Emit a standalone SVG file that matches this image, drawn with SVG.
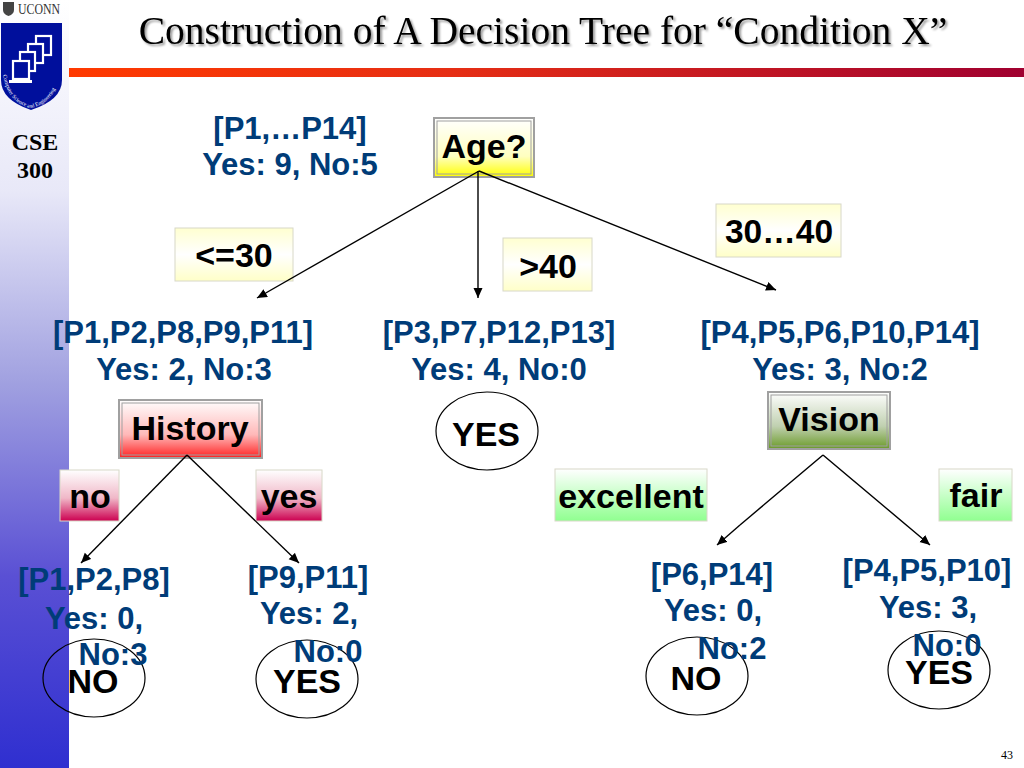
<svg xmlns="http://www.w3.org/2000/svg" width="1024" height="768" viewBox="0 0 1024 768">
<style>
text{font-family:"Liberation Sans",Arial,sans-serif;font-weight:bold}
.b{fill:#003c78;font-size:31px}
.k{fill:#000;font-size:34px}
.c{text-anchor:middle}
.s{font-family:"Liberation Serif","Times New Roman",serif;fill:#000}
.l{stroke:#000;stroke-width:1.4;fill:none;marker-end:url(#a)}
.n{stroke:#000;stroke-width:1.4;fill:none}
.e{fill:none;stroke:#000;stroke-width:1.2}
.o{stroke:#a0a0a0;stroke-width:2}
.i{fill:none;stroke:#a0a0a0;stroke-width:1}
.t{stroke:#d8d8c8;stroke-width:1}
.m{fill:#000f9c;stroke:#fff;stroke-width:2.2}
.f{fill:#fff}
</style>
<defs>
<linearGradient id="side" x1="0" y1="0" x2="0" y2="1"><stop offset="0" stop-color="#fff"/><stop offset=".25" stop-color="#e8e8f8"/><stop offset=".5" stop-color="#a0a0e0"/><stop offset=".75" stop-color="#5a50d4"/><stop offset="1" stop-color="#2f2fd0"/></linearGradient>
<linearGradient id="bar" x1="0" y1="0" x2="1" y2="0"><stop offset="0" stop-color="#ff3a00"/><stop offset=".4" stop-color="#e62e14"/><stop offset="1" stop-color="#a00030"/></linearGradient>
<linearGradient id="yl" x1="0" y1="0" x2="0" y2="1"><stop offset="0" stop-color="#fff"/><stop offset=".65" stop-color="#ffffc0"/><stop offset="1" stop-color="#ffff00"/></linearGradient>
<linearGradient id="rd" x1="0" y1="0" x2="0" y2="1"><stop offset="0" stop-color="#fff"/><stop offset=".6" stop-color="#ffb8b8"/><stop offset="1" stop-color="#ff2020"/></linearGradient>
<linearGradient id="gr" x1="0" y1="0" x2="0" y2="1"><stop offset="0" stop-color="#fff"/><stop offset=".6" stop-color="#c0d0b0"/><stop offset="1" stop-color="#6a9a28"/></linearGradient>
<linearGradient id="pk" x1="0" y1="0" x2="0" y2="1"><stop offset="0" stop-color="#fff"/><stop offset=".55" stop-color="#f0b8c8"/><stop offset="1" stop-color="#cc0050"/></linearGradient>
<linearGradient id="lg" x1="0" y1="0" x2="0" y2="1"><stop offset="0" stop-color="#fff"/><stop offset="1" stop-color="#90ff90"/></linearGradient>
<linearGradient id="ly" x1="0" y1="0" x2="0" y2="1"><stop offset="0" stop-color="#ffffd0"/><stop offset=".5" stop-color="#fff"/><stop offset="1" stop-color="#ffffc8"/></linearGradient>
<marker id="a" markerUnits="userSpaceOnUse" markerWidth="12" markerHeight="10" refX="10" refY="4.500" orient="auto"><path d="M0 0L10 4.500L0 9z" fill="#000"/></marker>
<path id="arc" d="M3 75Q8 103 31 108Q54 103 60 75"/>
</defs>

<g id="sidebar">
<rect x="0" y="0" width="69" height="768" fill="url(#side)"/>
<rect x="69" y="68" width="955" height="9" fill="url(#bar)"/>
<text x="18" y="14" class="s" textLength="42" lengthAdjust="spacingAndGlyphs" style="font-size:14px;font-weight:normal;fill:#333">UCONN</text>
<path d="M3 2H14V10Q14 14 8.500 16Q3 14 3 10Z" fill="#444"/>
<path d="M1 23H62V80Q62 100 31 110Q1 100 1 80Z" fill="#000f9c"/>
<rect class="m" x="36" y="36" width="15" height="19"/>
<rect class="m" x="28" y="44" width="15" height="19"/>
<rect class="m" x="20" y="52" width="15" height="19"/>
<rect class="m" x="13" y="61" width="16" height="18"/>
<rect class="f" x="9" y="80" width="23" height="3"/>
<text class="s" style="font-size:5.500px;font-weight:normal;fill:#fff"><textPath href="#arc">Computer Science and Engineering</textPath></text>
<text x="35" y="150" class="s c" style="font-size:24px">CSE</text>
<text x="35" y="178" class="s c" style="font-size:24px">300</text>
</g>

<text x="543" y="44" class="s c" style="font-size:39.500px;font-weight:normal;filter:drop-shadow(2px 2px 1px #999)" id="title">Construction of A Decision Tree for “Condition X”</text>

<g id="age"><rect x="434" y="118" width="100" height="59" fill="url(#yl)" class="o"/><rect x="437" y="121" width="94" height="53" class="i"/><text x="484" y="158" class="k c">Age?</text></g>
<g id="root-label"><text x="290" y="139" class="b c">[P1,…P14]</text><text x="290" y="175" class="b c">Yes: 9, No:5</text></g>

<g id="e1"><rect x="175" y="228" width="118" height="53" fill="url(#ly)" class="t"/><text x="234" y="267" class="k c">&lt;=30</text></g>
<g id="e2"><rect x="503" y="238" width="89" height="53" fill="url(#ly)" class="t"/><text x="548" y="278" class="k c">&gt;40</text></g>
<g id="e3"><rect x="716" y="204" width="125" height="53" fill="url(#ly)" class="t"/><text x="779" y="243" class="k c" style="font-size:33.500px">30…40</text></g>

<g id="p1"><text x="183" y="343" class="b c">[P1,P2,P8,P9,P11]</text><text x="184" y="380" class="b c">Yes: 2, No:3</text></g>
<g id="p2"><text x="499" y="343" class="b c">[P3,P7,P12,P13]</text><text x="499" y="380" class="b c">Yes: 4, No:0</text></g>
<g id="p3"><text x="840" y="343" class="b c">[P4,P5,P6,P10,P14]</text><text x="840" y="380" class="b c">Yes: 3, No:2</text></g>

<g id="history"><rect x="119" y="400" width="143" height="58" fill="url(#rd)" class="o"/><rect x="122" y="403" width="137" height="52" class="i"/><text x="190" y="440" class="k c">History</text></g>
<g id="yes-mid"><ellipse cx="487" cy="431" rx="51" ry="39" class="e"/><text x="486" y="446" class="k c">YES</text></g>
<g id="vision"><rect x="768" y="392" width="122" height="57" fill="url(#gr)" class="o"/><rect x="771" y="395" width="116" height="51" class="i"/><text x="829" y="431" class="k c">Vision</text></g>

<g id="no"><rect x="60" y="470" width="59" height="51" fill="url(#pk)" class="t"/><text x="90" y="508" class="k c">no</text></g>
<g id="yes"><rect x="256" y="470" width="66" height="51" fill="url(#pk)" class="t"/><text x="289" y="508" class="k c">yes</text></g>
<g id="excellent"><rect x="555" y="469" width="152" height="52" fill="url(#lg)" class="t"/><text x="631" y="508" class="k c">excellent</text></g>
<g id="fair"><rect x="939" y="469" width="73" height="52" fill="url(#lg)" class="t"/><text x="976" y="507" class="k c">fair</text></g>

<g id="leaf1"><ellipse cx="94" cy="678" rx="51" ry="39" class="e"/><text x="94" y="590" class="b c">[P1,P2,P8]</text><text x="94" y="629" class="b c">Yes: 0,</text><text x="113" y="665" class="b c">No:3</text><text x="93" y="693" class="k c">NO</text></g>
<g id="leaf2"><ellipse cx="307" cy="679" rx="51" ry="39" class="e"/><text x="308" y="588" class="b c">[P9,P11]</text><text x="309" y="624" class="b c">Yes: 2,</text><text x="328" y="662" class="b c">No:0</text><text x="307" y="693" class="k c">YES</text></g>
<g id="leaf3"><ellipse cx="697" cy="676" rx="51" ry="39" class="e"/><text x="712" y="585" class="b c">[P6,P14]</text><text x="713" y="621" class="b c">Yes: 0,</text><text x="732" y="659" class="b c">No:2</text><text x="696" y="690" class="k c">NO</text></g>
<g id="leaf4"><ellipse cx="939" cy="670" rx="51" ry="39" class="e"/><text x="927" y="581" class="b c">[P4,P5,P10]</text><text x="928" y="618" class="b c">Yes: 3,</text><text x="947" y="656" class="b c">No:0</text><text x="939" y="684" class="k c">YES</text></g>

<g id="connectors">
<path class="l" d="M479 171L257 298"/>
<path class="l" d="M478 171V298"/>
<path class="l" d="M479 171L776 290"/>
<path class="l" d="M187 455L81 563"/>
<path class="l" d="M187 455L299 563"/>
<path class="n" d="M823 455L740 525"/>
<path class="l" d="M740 525L717 545"/>
<path class="l" d="M823 455L930 545"/>
</g>

<text x="1007" y="759" class="c" style="font-family:'Liberation Serif',serif;font-weight:normal;font-size:12px;fill:#000" id="page">43</text>
</svg>
